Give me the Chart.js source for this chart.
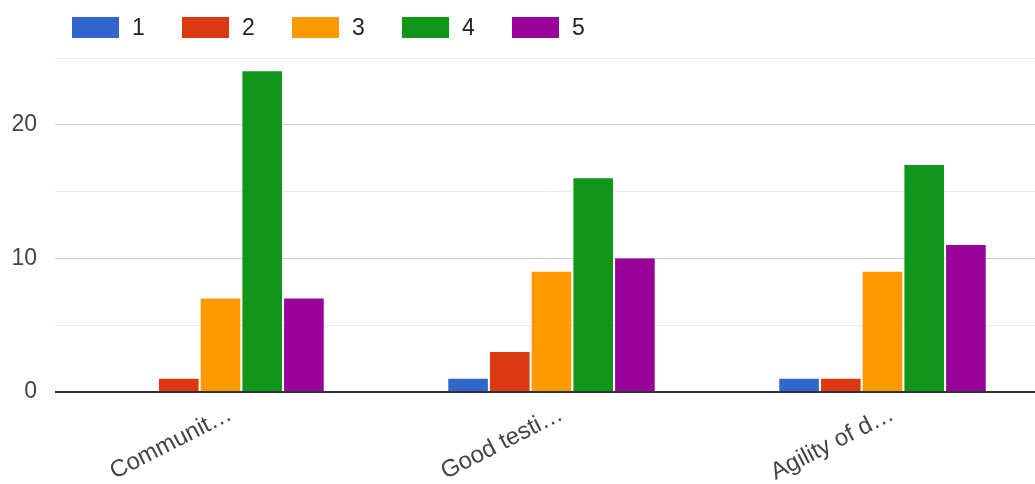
<!DOCTYPE html>
<html>
<head>
<meta charset="utf-8">
<script src="https://cdn.jsdelivr.net/npm/chart.js@4"></script>
<style>
  html, body { margin: 0; padding: 0; background: #fff; overflow: hidden; }
  #wrap { position: relative; width: 1050px; height: 484px; }
  #legend { position: absolute; left: 72px; top: 17px; display: flex; font-family: Arial, "Liberation Sans", sans-serif; font-size: 23px; color: #222; }
  #legend .item { display: flex; align-items: center; width: 110px; height: 21px; }
  #legend .box { width: 47px; height: 21px; margin-right: 13px; }
</style>
</head>
<body>
<div id="wrap">
  <div id="legend"></div>
  <canvas id="chart" width="1050" height="484"></canvas>
</div>
<script>
// Survey ratings per question
const questions = ['Communit…', 'Good testi…', 'Agility of d…'];
const ratingLabels = ['1', '2', '3', '4', '5'];
const rating1 = [0, 1, 1];
const rating2 = [1, 3, 1];
const rating3 = [7, 9, 9];
const rating4 = [24, 16, 17];
const rating5 = [7, 10, 11];
const yTicks = [0, 5, 10, 15, 20, 25];

const colors = ['#3366cc', '#dc3912', '#ff9900', '#109618', '#990099'];
const series = [rating1, rating2, rating3, rating4, rating5];

const datasets = series.map((values, i) => ({
  label: ratingLabels[i],
  data: values,
  backgroundColor: colors[i],
  barPercentage: 0.95,
  categoryPercentage: 0.63,
}));

// Build the legend as plain HTML so spacing matches the layout
const legendEl = document.getElementById('legend');
datasets.forEach(ds => {
  const item = document.createElement('div');
  item.className = 'item';
  item.innerHTML = '<span class="box" style="background:' + ds.backgroundColor + '"></span><span>' + ds.label + '</span>';
  legendEl.appendChild(item);
});

const fontFamily = 'Arial, "Liberation Sans", sans-serif';

new Chart(document.getElementById('chart').getContext('2d'), {
  type: 'bar',
  data: { labels: questions, datasets: datasets },
  options: {
    responsive: false,
    animation: false,
    layout: { padding: { top: 58, right: 2, left: 0, bottom: 0 } },
    plugins: {
      legend: { display: false },
      tooltip: { enabled: false },
    },
    scales: {
      x: {
        // keep the baseline at the same spot regardless of label size
        afterFit: (scale) => { scale.height = 92; },
        grid: { display: false },
        border: { display: false },
        ticks: {
          color: '#444',
          font: { family: fontFamily, size: 24 },
          minRotation: 27,
          maxRotation: 27,
          padding: 0,
          labelOffset: 10,
        },
      },
      y: {
        min: yTicks[0],
        max: yTicks[yTicks.length - 1],
        afterFit: (scale) => { scale.width = 55; },
        afterBuildTicks: (scale) => { scale.ticks = yTicks.map(v => ({ value: v })); },
        border: { display: false },
        grid: {
          drawTicks: false,
          color: (ctx) => {
            const v = ctx.tick.value;
            if (v === 0) return '#333';
            return v % 10 === 0 ? '#cccccc' : '#ebebeb';
          },
          lineWidth: (ctx) => (ctx.tick.value === 0 ? 2 : 1),
        },
        ticks: {
          color: '#444',
          font: { family: fontFamily, size: 23 },
          padding: 18,
          callback: (v) => (v % 10 === 0 ? v : ''),
        },
      },
    },
  },
});
</script>
</body>
</html>
